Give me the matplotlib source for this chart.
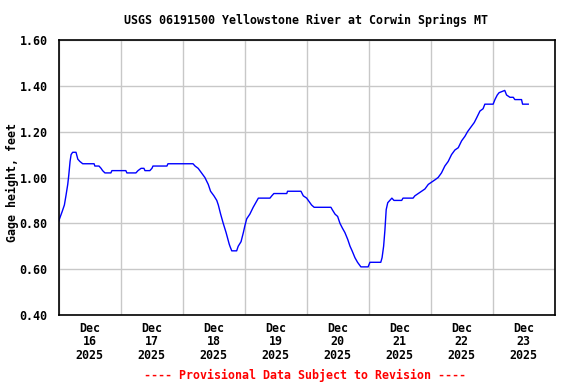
import numpy as np
import pandas as pd
import matplotlib
matplotlib.use("Agg")
import matplotlib.pyplot as plt
import matplotlib.dates as mdates

mpl_font = {"family": "DejaVu Sans Mono", "weight": "bold", "size": 8.4}
plt.rc("font", **mpl_font)

# hours since 2025-12-16 00:00 and gage height (feet)
hours = [0.0, 1.3, 2.2, 2.8, 3.5, 3.9, 4.4, 4.8, 5.4, 6.7, 7.4, 8.2, 9.3, 13.7,
         14.0, 15.6, 16.4, 17.0, 17.9, 20.2, 20.6, 26.0, 26.4, 29.9, 30.7, 31.9,
         33.0, 33.4, 35.3, 36.1, 36.5, 41.9, 42.3, 52.0, 52.8, 54.0, 55.3, 56.6,
         57.9, 58.8, 60.1, 61.2, 61.8, 62.7, 63.7, 64.8, 66.0, 66.3, 67.0, 68.9,
         69.5, 70.6, 71.5, 72.1, 72.8, 74.0, 75.3, 76.3, 77.3, 81.8, 82.5, 83.3,
         88.3, 88.6, 93.8, 94.7, 96.0, 97.3, 97.9, 98.9, 105.4, 105.9, 107.0,
         108.0, 108.9, 109.8, 110.8, 111.9, 112.8, 113.6, 114.7, 115.7, 117.0,
         119.8, 120.5, 124.7, 125.2, 125.8, 126.3, 126.8, 127.4, 128.2, 129.0,
         129.8, 132.8, 133.3, 137.2, 137.9, 139.2, 140.5, 141.8, 143.1, 144.4,
         145.7, 146.9, 148.2, 149.5, 150.8, 152.1, 153.4, 154.7, 156.0, 157.3,
         158.3, 159.6, 160.9, 161.8, 163.1, 164.3, 165.0, 167.8, 168.2, 168.9,
         169.8, 170.5, 172.7, 173.4, 174.7, 176.0, 176.6, 179.2, 179.6, 181.2,
         181.8]
gage = [0.81, 0.85, 0.88, 0.92, 0.97, 1.01, 1.07, 1.10, 1.11, 1.11, 1.08, 1.07,
        1.06, 1.06, 1.05, 1.05, 1.04, 1.03, 1.02, 1.02, 1.03, 1.03, 1.02, 1.02,
        1.03, 1.04, 1.04, 1.03, 1.03, 1.04, 1.05, 1.05, 1.06, 1.06, 1.05, 1.04,
        1.02, 1.00, 0.97, 0.94, 0.92, 0.90, 0.88, 0.84, 0.80, 0.76, 0.71, 0.70,
        0.68, 0.68, 0.70, 0.72, 0.76, 0.79, 0.82, 0.84, 0.87, 0.89, 0.91, 0.91,
        0.92, 0.93, 0.93, 0.94, 0.94, 0.92, 0.91, 0.89, 0.88, 0.87, 0.87, 0.86,
        0.84, 0.83, 0.80, 0.78, 0.76, 0.73, 0.70, 0.68, 0.65, 0.63, 0.61, 0.61,
        0.63, 0.63, 0.65, 0.70, 0.77, 0.86, 0.89, 0.90, 0.91, 0.90, 0.90, 0.91,
        0.91, 0.92, 0.93, 0.94, 0.95, 0.97, 0.98, 0.99, 1.00, 1.02, 1.05, 1.07,
        1.10, 1.12, 1.13, 1.16, 1.18, 1.20, 1.22, 1.24, 1.26, 1.29, 1.30, 1.32,
        1.32, 1.32, 1.34, 1.36, 1.37, 1.38, 1.36, 1.35, 1.35, 1.34, 1.34, 1.32,
        1.32, 1.32]

start = pd.Timestamp("2025-12-16")
end = pd.Timestamp("2025-12-24")
times = start + pd.to_timedelta(hours, unit="h")

fig = plt.figure(figsize=(5.76, 3.84), dpi=100)
ax = fig.add_axes([58.7/576, 1 - 315/384, (554.6-58.7)/576, (315-40)/384])

ax.plot(times, gage, color="#0000ff", lw=1.0)

ax.set_xlim(start, end)
ax.set_ylim(0.40, 1.60)
ax.set_yticks(np.arange(0.40, 1.61, 0.20))
ax.yaxis.set_major_formatter(matplotlib.ticker.FormatStrFormatter("%.2f"))

# gridlines at midnight, labels at noon
ax.xaxis.set_major_locator(mdates.DayLocator())
ax.xaxis.set_major_formatter(matplotlib.ticker.NullFormatter())
ax.xaxis.set_minor_locator(mdates.HourLocator(byhour=12))
ax.xaxis.set_minor_formatter(mdates.DateFormatter("%b\n%d\n%Y"))
ax.tick_params(axis="x", which="both", length=0, pad=5)
ax.tick_params(axis="y", length=0, pad=8)
for lab in ax.xaxis.get_minorticklabels():
	lab.set_linespacing(1.05)

ax.grid(True, which="major", color="#c8c8c8", lw=1.0)
ax.set_axisbelow(True)
for sp in ax.spines.values():
	sp.set_linewidth(1.2)

fig.text(306/576, 1 - 20/384, "USGS 06191500 Yellowstone River at Corwin Springs MT",
		ha="center", va="center")
fig.text(12/576, 1 - 183/384, "Gage height, feet", rotation=90,
		ha="center", va="center")
fig.text(305/576, 1 - 375/384, "---- Provisional Data Subject to Revision ----",
		ha="center", va="center", color="#ff0000")

fig.savefig("out.png", dpi=100)
